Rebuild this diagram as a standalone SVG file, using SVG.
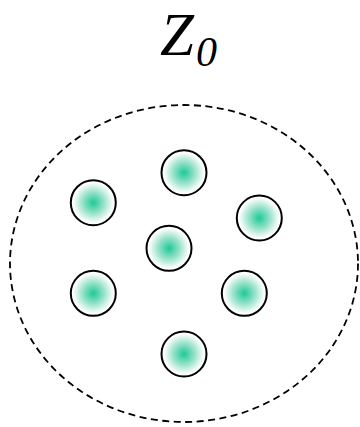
<svg xmlns="http://www.w3.org/2000/svg" width="360" height="427" viewBox="0 0 360 427">
<style>
.t{font-family:"Liberation Serif","Times New Roman",serif;font-style:italic;fill:#000}
.n{fill:url(#g);stroke:#000;stroke-width:2}
.b{fill:none;stroke:#000;stroke-width:1.8;stroke-dasharray:7,4.5}
</style>
<defs>
<radialGradient id="g" cx="0.5" cy="0.5" r="0.5">
<stop offset="0" stop-color="#1ec995"/>
<stop offset="0.5" stop-color="#9ee3cd"/>
<stop offset="0.9" stop-color="#ffffff"/>
</radialGradient>
</defs>
<rect width="360" height="427" fill="#fff"/>
<text class="t" x="160" y="55" font-size="61">Z</text>
<text class="t" x="196" y="66" font-size="42">0</text>
<g id="boundary"><ellipse class="b" cx="184" cy="263.5" rx="174" ry="158.5"/></g>
<g id="n1"><circle class="n" cx="184" cy="172.7" r="22.5"/></g>
<g id="n2"><circle class="n" cx="93.3" cy="202.7" r="22.5"/></g>
<g id="n3"><circle class="n" cx="259.3" cy="218" r="22.5"/></g>
<g id="n4"><circle class="n" cx="169" cy="248.3" r="22.5"/></g>
<g id="n5"><circle class="n" cx="93.3" cy="293.3" r="22.5"/></g>
<g id="n6"><circle class="n" cx="244.3" cy="293.3" r="22.5"/></g>
<g id="n7"><circle class="n" cx="184" cy="354" r="22.5"/></g>
<g id="connectors"/>
</svg>
